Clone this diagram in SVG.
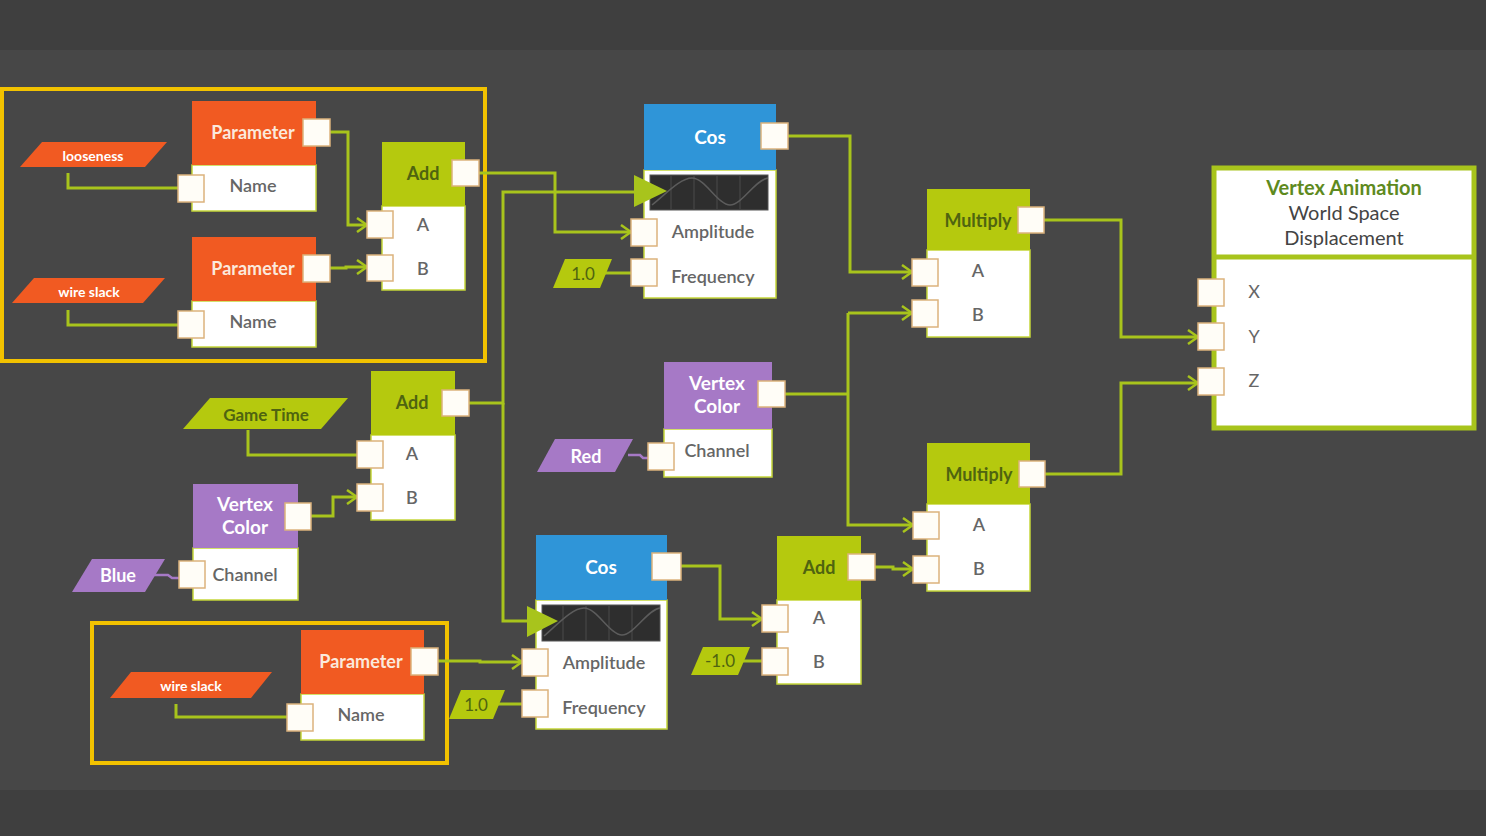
<svg xmlns="http://www.w3.org/2000/svg" width="1486" height="836" viewBox="0 0 1486 836">
<style>
.wire{fill:none;stroke:#a8c41c;stroke-width:3}
.pwire{fill:none;stroke:#a679c6;stroke-width:2.5}
.port{fill:#fffdf7;stroke:#dcb27c;stroke-width:1.5}
.body{fill:#fff;stroke:#c5d63a;stroke-width:1.5}
.hp{fill:#f15a22}.ha{fill:#b5c90e}.hc{fill:#2f95d8}.hv{fill:#a679c6}
.frame{fill:none;stroke:#f2c200;stroke-width:4}
.tri{fill:#a8c41c}
text{font-family:Lato,"Open Sans","Liberation Sans",sans-serif;text-anchor:middle}
.th{font-size:18px;font-weight:bold;fill:#fbe9dc}
.tg{font-size:18px;font-weight:bold;fill:#4f6410}
.tw{font-size:19px;font-weight:bold;fill:#fff}
.tb{font-size:18px;fill:#666;font-weight:600}
.tl{font-size:14px;font-weight:bold;fill:#fff}
.graph{fill:#2e2e2e;stroke:#555;stroke-width:1}
.grid{stroke:#4a4a4a;stroke-width:1}
.curve{fill:none;stroke:#5c5c5c;stroke-width:1.5}
</style>
<defs>
<marker id="arr" markerUnits="userSpaceOnUse" markerWidth="12" markerHeight="16" viewBox="0 0 12 16" refX="11" refY="8" orient="auto">
<path d="M1,1 L11,8 L1,15" fill="none" stroke="#a8c41c" stroke-width="2.5"/>
</marker>
</defs>
<rect x="0" y="0" width="1486" height="836" fill="#3f3f3f"/>
<rect x="0" y="50" width="1486" height="740" fill="#474747"/>

<g id="frames">
<rect class="frame" x="2" y="89" width="483" height="272"/>
<rect class="frame" x="92" y="623" width="355" height="140"/>
</g>

<g id="connectors">
<path class="wire" d="M68,173 V188 H178"/>
<path class="wire" d="M68,310 V325 H178"/>
<path class="wire" d="M330,132 H348 V225 H367" marker-end="url(#arr)"/>
<path class="wire" d="M330,268 H346 V267 H367" marker-end="url(#arr)"/>
<path class="wire" d="M479,173 H555 V232 H631" marker-end="url(#arr)"/>
<path class="wire" d="M469,403 H503 V192 H635"/>
<path class="wire" d="M503,403 V621 H527"/>
<path class="wire" d="M600,273 H631"/>
<path class="wire" d="M788,136 H850 V272 H912" marker-end="url(#arr)"/>
<path class="wire" d="M785,394 H848"/>
<path class="wire" d="M848,313 H912" marker-end="url(#arr)"/>
<path class="wire" d="M848,313 V525 H913" marker-end="url(#arr)"/>
<path class="wire" d="M1044,220 H1121 V337 H1198" marker-end="url(#arr)"/>
<path class="wire" d="M1045,474 H1121 V383 H1198" marker-end="url(#arr)"/>
<path class="wire" d="M248,430 V455 H357"/>
<path class="wire" d="M311,516 H333 V497 H357" marker-end="url(#arr)"/>
<path class="pwire" d="M150,575 H168 L172,578 H179"/>
<path class="pwire" d="M628,455 H640 L643,458 H648"/>
<path class="wire" d="M681,566 H720 V619 H762" marker-end="url(#arr)"/>
<path class="wire" d="M740,661 H762"/>
<path class="wire" d="M875,567 H893 V569 H913" marker-end="url(#arr)"/>
<path class="wire" d="M438,661 H480 V662 H522" marker-end="url(#arr)"/>
<path class="wire" d="M495,704 H522"/>
<path class="wire" d="M176,704 V717 H287"/>
</g>

<g id="looseness">
<polygon points="20,167 42,142 167,142 145,167" fill="#f15a22"/>
<text class="tl" x="93" y="161">looseness</text>
</g>
<g id="wireslack1">
<polygon points="12,303 34,278 165,278 143,303" fill="#f15a22"/>
<text class="tl" x="89" y="297">wire slack</text>
</g>
<g id="wireslack2">
<polygon points="110,698 131,672 272,672 251,698" fill="#f15a22"/>
<text class="tl" x="191" y="691">wire slack</text>
</g>

<g id="param1">
<rect class="body" x="192" y="165" width="124" height="46"/>
<rect class="hp" x="192" y="101" width="124" height="64"/>
<text class="th" x="253" y="139">Parameter</text>
<text class="tb" x="253" y="192">Name</text>
<rect class="port" x="303" y="119" width="27" height="27"/>
<rect class="port" x="178" y="175" width="26" height="27"/>
</g>
<g id="param2">
<rect class="body" x="192" y="301" width="124" height="46"/>
<rect class="hp" x="192" y="237" width="124" height="64"/>
<text class="th" x="253" y="275">Parameter</text>
<text class="tb" x="253" y="328">Name</text>
<rect class="port" x="303" y="255" width="27" height="27"/>
<rect class="port" x="178" y="311" width="26" height="27"/>
</g>
<g id="param3">
<rect class="body" x="301" y="694" width="123" height="46"/>
<rect class="hp" x="301" y="630" width="123" height="64"/>
<text class="th" x="361" y="668">Parameter</text>
<text class="tb" x="361" y="721">Name</text>
<rect class="port" x="411" y="648" width="27" height="27"/>
<rect class="port" x="287" y="704" width="26" height="27"/>
</g>

<g id="add1">
<rect class="body" x="382" y="206" width="83" height="84"/>
<rect class="ha" x="382" y="142" width="83" height="64"/>
<text class="tg" x="423" y="180">Add</text>
<text class="tb" x="423" y="231">A</text>
<text class="tb" x="423" y="275">B</text>
<rect class="port" x="452" y="160" width="27" height="26"/>
<rect class="port" x="367" y="211" width="26" height="27"/>
<rect class="port" x="367" y="255" width="26" height="26"/>
</g>

<g id="add2">
<rect class="body" x="371" y="435" width="84" height="85"/>
<rect class="ha" x="371" y="371" width="84" height="64"/>
<text class="tg" x="412" y="409">Add</text>
<text class="tb" x="412" y="460">A</text>
<text class="tb" x="412" y="504">B</text>
<rect class="port" x="442" y="390" width="27" height="26"/>
<rect class="port" x="357" y="441" width="26" height="27"/>
<rect class="port" x="357" y="484" width="26" height="27"/>
</g>

<g id="gametime">
<polygon points="183,429 210,398 348,398 321,429" fill="#b5c90e"/>
<text x="266" y="421" style="font-size:17px;font-weight:bold;fill:#4f6410">Game Time</text>
</g>

<g id="vcolor2">
<rect class="body" x="193" y="548" width="105" height="52"/>
<rect class="hv" x="193" y="484" width="105" height="64"/>
<text class="tw" x="245" y="511">Vertex</text>
<text class="tw" x="245" y="534">Color</text>
<text class="tb" x="245" y="581">Channel</text>
<rect class="port" x="285" y="503" width="26" height="27"/>
<rect class="port" x="179" y="561" width="26" height="27"/>
</g>
<g id="blue">
<polygon points="72,592 92,559 165,559 145,592" fill="#a679c6"/>
<text x="118" y="582" style="font-size:18px;font-weight:bold;fill:#fff">Blue</text>
</g>

<g id="cos1">
<rect class="body" x="644" y="170" width="132" height="128"/>
<rect class="hc" x="644" y="104" width="132" height="66"/>
<text class="tw" x="710" y="144">Cos</text>
<rect class="graph" x="650" y="175" width="118" height="35"/>
<path class="grid" d="M671,176 V209 M694,176 V209 M717,176 V209 M740,176 V209"/>
<path class="curve" d="M652,205 C665,195 680,178 692,178 C705,178 718,205 730,205 C742,205 755,180 768,178"/>
<rect class="port" x="761" y="123" width="27" height="26"/>
<rect class="port" x="631" y="219" width="26" height="27"/>
<rect class="port" x="631" y="259" width="26" height="27"/>
<text class="tb" x="713" y="238">Amplitude</text>
<text class="tb" x="713" y="283">Frequency</text>
<polygon class="tri" points="634,175 667,191 634,207"/>
</g>
<g id="const1a">
<polygon points="553,288 565,259 612,259 600,288" fill="#b5c90e"/>
<text x="583" y="280" style="font-size:17px;fill:#4f6410">1.0</text>
</g>

<g id="vcolor1">
<rect class="body" x="664" y="429" width="108" height="48"/>
<rect class="hv" x="664" y="362" width="108" height="67"/>
<text class="tw" x="717" y="390">Vertex</text>
<text class="tw" x="717" y="413">Color</text>
<text class="tb" x="717" y="457">Channel</text>
<rect class="port" x="758" y="381" width="27" height="26"/>
<rect class="port" x="648" y="443" width="26" height="27"/>
</g>
<g id="red">
<polygon points="537,472 555,439 633,439 615,472" fill="#a679c6"/>
<text x="586" y="463" style="font-size:18px;font-weight:bold;fill:#fff">Red</text>
</g>

<g id="cos2">
<rect class="body" x="536" y="600" width="131" height="129"/>
<rect class="hc" x="536" y="535" width="131" height="65"/>
<text class="tw" x="601" y="574">Cos</text>
<rect class="graph" x="542" y="605" width="118" height="36"/>
<path class="grid" d="M563,606 V640 M586,606 V640 M609,606 V640 M632,606 V640"/>
<path class="curve" d="M544,636 C557,625 572,608 584,608 C597,608 610,635 622,635 C634,635 647,610 660,608"/>
<rect class="port" x="652" y="553" width="29" height="27"/>
<rect class="port" x="522" y="649" width="26" height="27"/>
<rect class="port" x="522" y="690" width="26" height="27"/>
<text class="tb" x="604" y="669">Amplitude</text>
<text class="tb" x="604" y="714">Frequency</text>
<polygon class="tri" points="527,606 558,621 527,637"/>
</g>
<g id="const1b">
<polygon points="449,719 461,690 505,690 493,719" fill="#b5c90e"/>
<text x="476" y="711" style="font-size:17px;fill:#4f6410">1.0</text>
</g>

<g id="add3">
<rect class="body" x="777" y="600" width="84" height="84"/>
<rect class="ha" x="777" y="536" width="84" height="64"/>
<text class="tg" x="819" y="574">Add</text>
<text class="tb" x="819" y="624">A</text>
<text class="tb" x="819" y="668">B</text>
<rect class="port" x="848" y="554" width="27" height="26"/>
<rect class="port" x="762" y="605" width="26" height="27"/>
<rect class="port" x="762" y="648" width="26" height="27"/>
</g>
<g id="constm1">
<polygon points="691,675 703,647 750,647 738,675" fill="#b5c90e"/>
<text x="720" y="667" style="font-size:17px;fill:#4f6410">-1.0</text>
</g>

<g id="multiply1">
<rect class="body" x="927" y="250" width="103" height="87"/>
<rect class="ha" x="927" y="189" width="103" height="61"/>
<text class="tg" x="978" y="227">Multiply</text>
<text class="tb" x="978" y="277">A</text>
<text class="tb" x="978" y="321">B</text>
<rect class="port" x="1018" y="207" width="26" height="26"/>
<rect class="port" x="912" y="259" width="26" height="27"/>
<rect class="port" x="912" y="300" width="26" height="27"/>
</g>
<g id="multiply2">
<rect class="body" x="927" y="504" width="103" height="87"/>
<rect class="ha" x="927" y="443" width="103" height="61"/>
<text class="tg" x="979" y="481">Multiply</text>
<text class="tb" x="979" y="531">A</text>
<text class="tb" x="979" y="575">B</text>
<rect class="port" x="1019" y="461" width="26" height="26"/>
<rect class="port" x="913" y="512" width="26" height="27"/>
<rect class="port" x="913" y="556" width="26" height="27"/>
</g>

<g id="vertexanim">
<rect x="1214" y="168" width="260" height="260" fill="#fff" stroke="#a8c41c" stroke-width="5"/>
<line x1="1214" y1="257" x2="1474" y2="257" stroke="#a8c41c" stroke-width="5"/>
<text x="1344" y="195" style="font-size:20px;font-weight:bold;fill:#5e8a1e">Vertex Animation</text>
<text x="1344" y="220" style="font-size:20px;fill:#444">World Space</text>
<text x="1344" y="245" style="font-size:20px;fill:#444">Displacement</text>
<rect class="port" x="1198" y="279" width="26" height="27"/>
<rect class="port" x="1198" y="323" width="26" height="27"/>
<rect class="port" x="1198" y="368" width="26" height="27"/>
<text class="tb" x="1254" y="298" style="font-weight:normal">X</text>
<text class="tb" x="1254" y="343" style="font-weight:normal">Y</text>
<text class="tb" x="1254" y="387" style="font-weight:normal">Z</text>
</g>
</svg>
